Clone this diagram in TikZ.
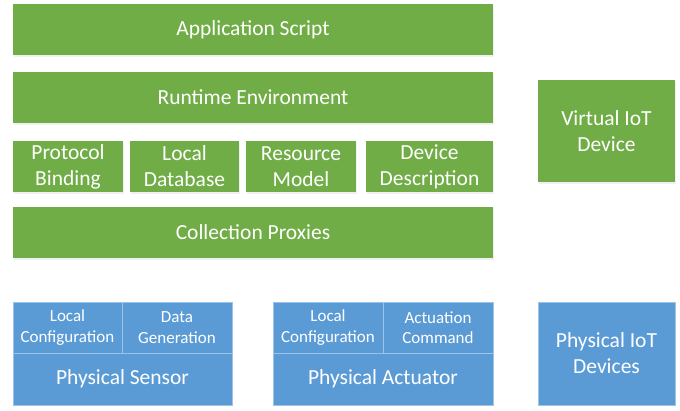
\documentclass[tikz,border=0pt]{standalone}
\usepackage{fontspec}
\setmainfont{Carlito}
\usetikzlibrary{positioning,shadows}

\definecolor{layergreen}{HTML}{70AD47}
\definecolor{devblue}{HTML}{5B9BD5}
\definecolor{devline}{HTML}{9DC3E6}

\tikzset{
  layer/.style={fill=layergreen, text=white, align=center, anchor=north west,
    inner sep=0pt, outer sep=0pt,
    font=\fontsize{21.5}{26}\selectfont,
    drop shadow={shadow xshift=1pt, shadow yshift=-1.5pt, opacity=0.12}},
  cell/.style={fill=devblue, draw=devline, line width=0.7pt, text=white,
    align=center, anchor=north west, inner sep=0pt, outer sep=0pt,
    font=\fontsize{17}{20.5}\selectfont},
  devbox/.style={cell, font=\fontsize{21.5}{26}\selectfont}
}

\begin{document}
\begin{tikzpicture}[x=1pt,y=-1pt]
  \useasboundingbox (0,0) rectangle (680,410);
  % virtual device stack
  \node[layer, minimum width=480, minimum height=51] (app) at (13,4) {Application Script};
  \node[layer, minimum width=480, minimum height=51] (runtime) at (13,72) {Runtime Environment};
  \node[layer, minimum width=110, minimum height=51] (proto) at (13,141) {Protocol\\Binding};
  \node[layer, minimum width=109, minimum height=51] (localdb) at (130,141) {Local\\Database};
  \node[layer, minimum width=110, minimum height=51] (resmodel) at (246,141) {Resource\\Model};
  \node[layer, minimum width=127, minimum height=51] (devdesc) at (366,141) {Device\\Description};
  \node[layer, minimum width=480, minimum height=51] (proxies) at (13,207) {Collection Proxies};
  \node[layer, minimum width=137, minimum height=102] (virtual) at (538,80) {Virtual IoT\\Device};
  % physical devices
  \node[cell, minimum width=109, minimum height=51] (senscfg) at (13,302) {Local\\Configuration};
  \node[cell, minimum width=110, minimum height=51] (sensgen) at (122,302) {Data\\Generation};
  \node[devbox, minimum width=219, minimum height=52] (sensor) at (13,353) {Physical Sensor};
  \node[cell, minimum width=110, minimum height=51] (actcfg) at (273,302) {Local\\Configuration};
  \node[cell, minimum width=110, minimum height=51] (actcmd) at (383,302) {Actuation\\Command};
  \node[devbox, minimum width=220, minimum height=52] (actuator) at (273,353) {Physical Actuator};
  \node[devbox, minimum width=137, minimum height=103] (physical) at (538,302) {Physical IoT\\Devices};
\end{tikzpicture}
\end{document}
